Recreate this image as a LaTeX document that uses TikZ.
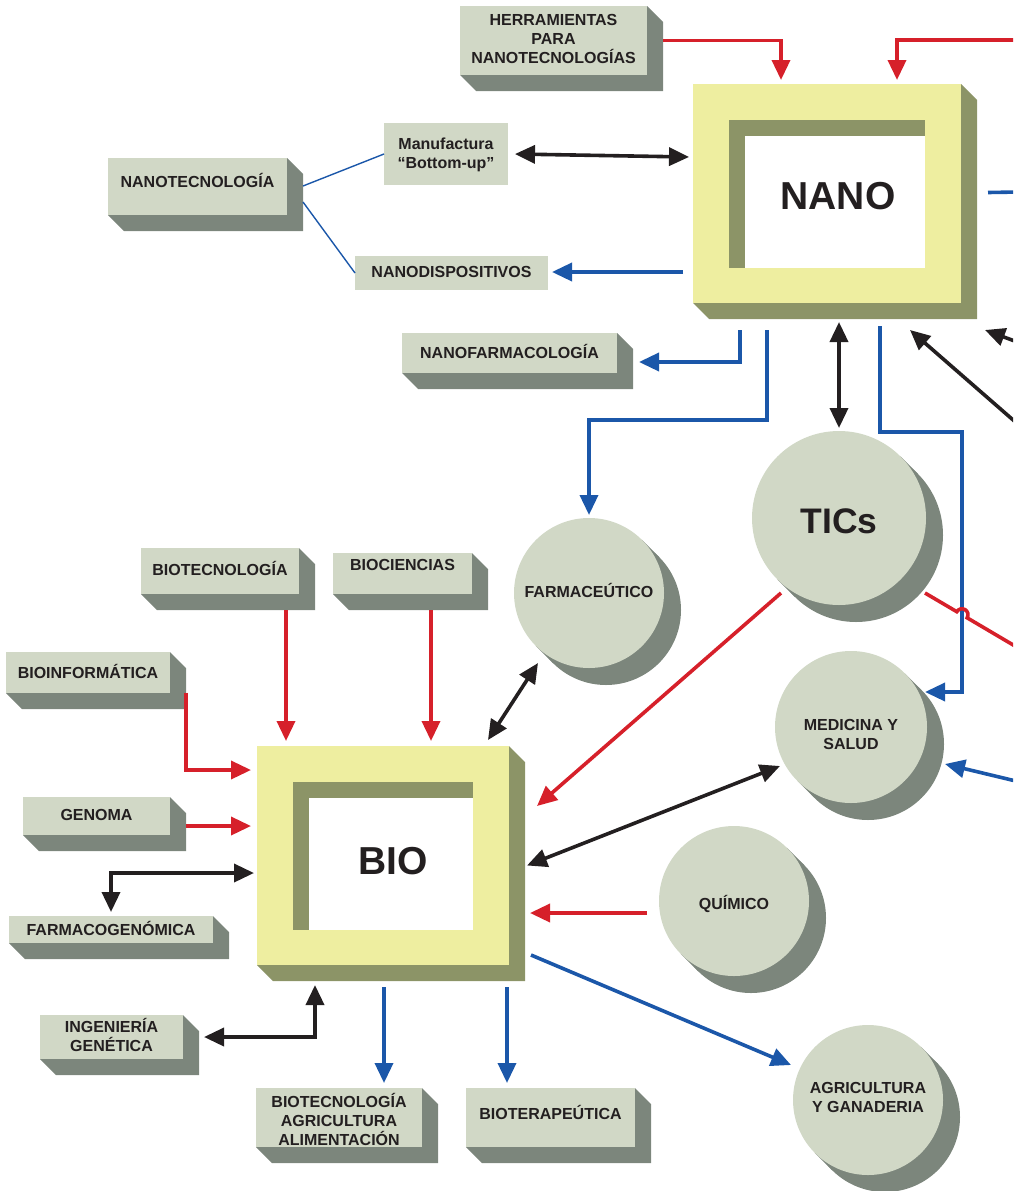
\documentclass[tikz,border=0pt]{standalone}
\usepackage{fontspec}
\setmainfont{Liberation Sans}
\usetikzlibrary{arrows.meta,calc}

\definecolor{facecol}{HTML}{D1D8C6}
\definecolor{shadecol}{HTML}{7C867C}
\definecolor{framecol}{HTML}{EEEEA0}
\definecolor{olivecol}{HTML}{8C9467}
\definecolor{redc}{HTML}{D6202A}
\definecolor{bluec}{HTML}{1B57A9}
\definecolor{ink}{HTML}{231F20}

\pgfdeclarelayer{shadow}
\pgfsetlayers{shadow,main}

\tikzset{
  facebox/.style={rectangle,fill=facecol,draw=none,inner sep=0pt,outer sep=0pt},
  framebox/.style={rectangle,fill=framecol,draw=none,inner sep=0pt,outer sep=0pt},
  facedisc/.style={circle,fill=facecol,draw=none,inner sep=0pt,outer sep=0pt},
  txt/.style={font=\bfseries\fontsize{16}{19}\selectfont,text=ink,align=center,inner sep=0pt},
  one/.style={text height=11.5pt,text depth=0pt},
  bigtxt/.style={font=\bfseries\fontsize{39}{44}\selectfont,text=ink,inner sep=0pt,text height=28pt,text depth=0pt},
  tip/.tip={Triangle[length=20pt,width=18pt]},
  conn/.style={line width=3.6pt,line join=miter},
  redarrow/.style={conn,draw=redc,-tip},
  bluearrow/.style={conn,draw=bluec,-tip},
  blueline/.style={conn,draw=bluec},
  blackarrow/.style={conn,draw=ink,-tip},
  blackboth/.style={conn,draw=ink,tip-tip},
  thinblue/.style={draw=bluec,line width=1.4pt},
}

% raised box: name, x0, y0, x1, y1, text y, text
\newcommand\makeslab[7]{%
  \node[facebox,anchor=north west,minimum width={(#4-#2)*1pt},minimum height={(#5-#3)*1pt}] (#1) at (#2,#3) {};
  \begin{pgfonlayer}{shadow}
    \fill[shadecol] (#1.north east) -- ++(16,16) -- ($(#1.south east)+(16,16)$)
      -- ($(#1.south west)+(16,16)$) -- (#1.south west) -- cycle;
  \end{pgfonlayer}
  \node[txt] (#1-t) at ({(#2+#4)/2},#6) {#7};
}
% flat box: name, x0, y0, x1, y1, text y, text
\newcommand\makeflat[7]{%
  \node[facebox,anchor=north west,minimum width={(#4-#2)*1pt},minimum height={(#5-#3)*1pt}] (#1) at (#2,#3) {};
  \node[txt] (#1-t) at ({(#2+#4)/2},#6) {#7};
}
% raised disc: name, cx, cy, r
\newcommand\makedisc[4]{%
  \node[facedisc,minimum size={2*#4*1pt}] (#1) at (#2,#3) {};
  \begin{pgfonlayer}{shadow}
    \fill[shadecol] ($(#1.center)+(17,17)$) circle[radius=#4];
    \fill[shadecol] (#1.north east) -- ++(17,17) -- ($(#1.south west)+(17,17)$) -- (#1.south west) -- cycle;
  \end{pgfonlayer}
}
% raised frame with inner window: name, x0, y0, x1, y1
\newcommand\makeframe[5]{%
  \node[framebox,anchor=north west,minimum width={(#4-#2)*1pt},minimum height={(#5-#3)*1pt}] (#1) at (#2,#3) {};
  \begin{pgfonlayer}{shadow}
    \fill[olivecol] (#1.north east) -- ++(16,16) -- ($(#1.south east)+(16,16)$)
      -- ($(#1.south west)+(16,16)$) -- (#1.south west) -- cycle;
  \end{pgfonlayer}
  \fill[olivecol] ($(#1.north west)+(36,36)$) rectangle ($(#1.south east)+(-36,-35)$);
  \fill[white] ($(#1.north west)+(52,52)$) rectangle ($(#1.south east)+(-36,-35)$);
}

\begin{document}
\begin{tikzpicture}[x=1pt,y=-1pt]
\useasboundingbox (0,0) rectangle (1013,1191);

% ---------- NANO side ----------
\makeslab{herr}{460}{6}{647}{75}{39}{HERRAMIENTAS\\PARA\\NANOTECNOLOGÍAS}
\makeflat{manu}{384}{123}{508}{185}{155}{Manufactura\\“Bottom-up”}
\makeslab{nanotec}{108}{158}{287}{215}{180}{NANOTECNOLOGÍA}
\makeflat{ndisp}{355}{256}{548}{290}{272}{NANODISPOSITIVOS}
\makeslab{nfarm}{402}{333}{617}{373}{351}{NANOFARMACOLOGÍA}
\makeframe{nano}{693}{84}{961}{303}
\node[bigtxt] (nano-t) at (838,195) {NANO};

% ---------- discs ----------
\makedisc{tics}{839}{518}{87}
\node[txt,font=\bfseries\fontsize{35.5}{40}\selectfont,text height=25.5pt,text depth=0pt] (tics-t) at (839,521) {TICs};
\makedisc{farma}{589}{593}{75}
\node[txt,one] (farma-t) at (589,592) {FARMACEÚTICO};
\makedisc{med}{851}{727}{76}
\node[txt] (med-t) at (851,734.5) {MEDICINA Y\\SALUD};
\makedisc{quim}{734}{901}{75}
\node[txt,one] (quim-t) at (734,904) {QUÍMICO};
\makedisc{agri}{868}{1100}{75}
\node[txt] (agri-t) at (868,1097.5) {AGRICULTURA\\Y GANADERIA};

% ---------- BIO side ----------
\makeframe{bio}{257}{746}{509}{965}
\node[bigtxt] (bio-t) at (393,860) {BIO};
\makeslab{biotec}{141}{548}{299}{594}{568}{BIOTECNOLOGÍA}
\makeslab{bioc}{333}{553}{472}{594}{565}{BIOCIENCIAS}
\makeslab{binf}{6}{652}{170}{693}{671}{BIOINFORMÁTICA}
\makeslab{genoma}{23}{797}{170}{835}{815}{GENOMA}
\makeslab{fgen}{9}{916}{213}{943}{928}{FARMACOGENÓMICA}
\makeslab{ingen}{40}{1015}{183}{1059}{1035}{INGENIERÍA\\GENÉTICA}
\makeslab{btag}{256}{1088}{422}{1147}{1119}{BIOTECNOLOGÍA\\AGRICULTURA\\ALIMENTACIÓN}
\makeslab{bter}{466}{1088}{635}{1147}{1112}{BIOTERAPEÚTICA}

% ---------- connectors ----------
\begin{scope}
\clip (0,0) rectangle (1013,1191);
\coordinate (edgeA) at (1020,40);
\coordinate (edgeB) at (1020,192);
\coordinate (edgeC) at (1020,343);
\coordinate (edgeD) at (1020,426);
\coordinate (edgeE) at (1020,649);
\coordinate (edgeF) at (1020,782);

% into NANO
\draw[redarrow] ($(herr.east)+(16,0)$) -| ($(nano.north)+(-46,-4)$);
\draw[redarrow] (edgeA) -| ($(nano.north)+(70,-4)$);
\draw[blackboth] ($(manu.east)+(7,0)$) -- ($(manu.east -| nano.west)+(-4,3)$);
\draw[thinblue] ($(nanotec.north east)+(16,28)$) -- (manu.west);
\draw[thinblue] ($(nanotec.north east)+(16,44)$) -- (ndisp.west);
\draw[bluearrow] ($(ndisp.east -| nano.west)+(-10,-1)$) -- ($(ndisp.east)+(4,-1)$);
\draw[blueline] (edgeB) -- ($(nano.east)+(27,-1)$);
\draw[bluearrow] ($(nano.south west)+(47,27)$) |- ($(nfarm.east)+(22,9)$);
\draw[bluearrow] ($(nano.south west)+(74,27)$) |- ($(farma.north)+(0,-98)$) -- ($(farma.north)+(0,-3)$);
\draw[blackboth] ($(nano.south -| tics.north)+(0,19)$) -- ($(tics.north)+(0,-3)$);
\draw[bluearrow] ($(nano.south)+(53,23)$) |- ($(tics.north)+(123,1)$) |- ($(med.center)+(74,-35)$);
\draw[blackarrow] (edgeD) -- ($(nano.south east)+(-51,27)$);
\draw[blackarrow] (edgeC) -- ($(nano.south east)+(24,27)$);

% from TICs
\draw[redarrow] ($(tics.center)+(-58,75)$) -- ($(bio.north east)+(28,60)$);
\draw[conn,draw=redc] ($(tics.center)+(86,75)$) -- ($(tics.center)+(117.8,93.7)$)
  arc[start angle=210.6,end angle=390.6,radius=6] -- (edgeE);

% into and out of BIO
\draw[blackboth] ($(farma.center)+(-51,70)$) -- ($(bio.north east)+(-21,-6)$);
\draw[redarrow] ($(biotec.south east)+(-13,16)$) -- ($(biotec.south east |- bio.north)+(-13,-5)$);
\draw[redarrow] ($(bioc.south west)+(98,16)$) -- ($(bioc.south west |- bio.north)+(98,-5)$);
\draw[redarrow] ($(binf.east)+(16,20)$) |- ($(bio.north west)+(-6,24)$);
\draw[redarrow] ($(genoma.east)+(16,10)$) -- ($(genoma.east -| bio.west)+(-6,10)$);
\draw[blackboth] ($(bio.north west)+(-3,127)$) -| ($(fgen.north)+(0,-4)$);
\draw[blackboth] ($(bio.east)+(18,10)$) -- ($(med.center)+(-71,39)$);
\draw[redarrow] ($(quim.west)+(-12,12)$) -- ($(quim.west -| bio.east)+(21,12)$);
\draw[bluearrow] ($(bio.south east)+(22,-10)$) -- ($(agri.center)+(-77,-35)$);
\draw[bluearrow] (edgeF) -- ($(med.center)+(94,37)$);
\draw[bluearrow] ($(bio.south west)+(127,22)$) -- ($(bio.south west |- btag.north)+(127,-5)$);
\draw[bluearrow] ($(bio.south east)+(-2,22)$) -- ($(bio.south east |- bter.north)+(-2,-5)$);
\draw[blackboth] ($(bio.south west)+(58,20)$) |- ($(ingen.east)+(21,0)$);
\end{scope}
\end{tikzpicture}
\end{document}
